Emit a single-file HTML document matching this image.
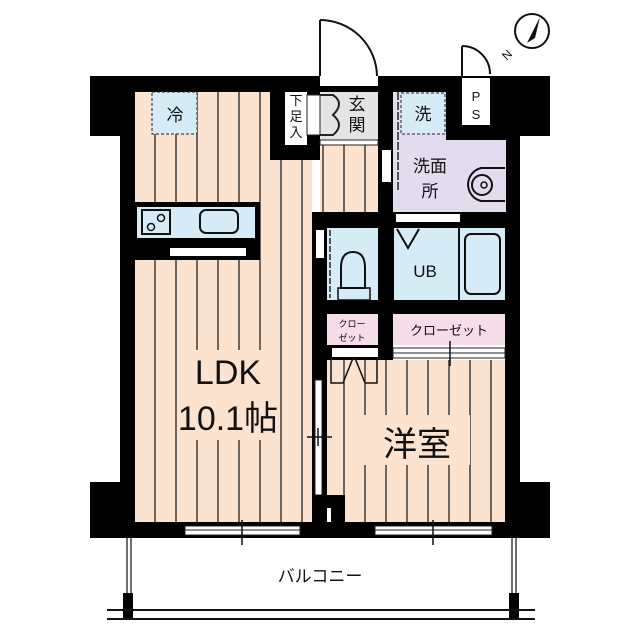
<!DOCTYPE html>
<html><head><meta charset="utf-8"><style>
html,body{margin:0;padding:0;background:#fff;}
svg{display:block}
text{font-family:"Liberation Sans","Noto Sans CJK JP",sans-serif;fill:#111}
</style></head><body>
<svg width="640" height="640" viewBox="0 0 640 640" xmlns="http://www.w3.org/2000/svg">
<defs>
<pattern id="fl" x="135" y="0" width="21" height="10" patternUnits="userSpaceOnUse">
<rect width="21" height="10" fill="#fce3cf"/><line x1="20" y1="0" x2="20" y2="10" stroke="#222" stroke-width="1.3"/>
</pattern>
</defs>
<!-- black structure -->
<rect x="90" y="76" width="460" height="16" fill="#000"/>
<rect x="90" y="76" width="45" height="60" fill="#000"/>
<rect x="493" y="76" width="57" height="60" fill="#000"/>
<rect x="120" y="76" width="15" height="462" fill="#000"/>
<rect x="505" y="76" width="15" height="462" fill="#000"/>
<rect x="90" y="482" width="58" height="56" fill="#000"/>
<rect x="493" y="482" width="57" height="56" fill="#000"/>
<rect x="120" y="522" width="400" height="16" fill="#000"/>
<rect x="378" y="76" width="127" height="260" fill="#000"/>
<rect x="312" y="212" width="81" height="150" fill="#000"/>
<rect x="312" y="212" width="15" height="310" fill="#000"/>
<rect x="270" y="76" width="50" height="84" fill="#000"/>
<!-- floors -->
<rect x="135" y="92" width="135" height="430" fill="url(#fl)"/>
<rect x="270" y="160" width="42" height="362" fill="url(#fl)"/>
<rect x="320" y="145" width="58" height="67" fill="url(#fl)"/>
<rect x="327" y="360" width="178" height="162" fill="url(#fl)"/>
<!-- LDK label background -->
<rect x="180" y="350" width="100" height="90" fill="#fce3cf"/>
<rect x="360" y="415" width="110" height="50" fill="#fce3cf"/>
<!-- 冷 -->
<rect x="152" y="92" width="45" height="42" fill="#d5ebf6" stroke="#222" stroke-dasharray="3,2"/>
<text x="175" y="121" font-size="17" text-anchor="middle">冷</text>
<!-- genkan -->
<rect x="320" y="92" width="58" height="48" fill="#e4e4e4"/>
<rect x="320" y="140" width="58" height="5" fill="#fff" stroke="#222" stroke-width="1"/>
<rect x="285" y="92" width="22" height="53" fill="#fff"/>
<rect x="307" y="95" width="13" height="40" fill="#fff" stroke="#222"/>
<path d="M320,95 L333,95 Q345,103 333,115 Q345,125 333,135 L320,135" fill="none" stroke="#222" stroke-width="2"/>
<text x="296" y="105" font-size="13" text-anchor="middle">下</text>
<text x="296" y="121" font-size="13" text-anchor="middle">足</text>
<text x="296" y="137" font-size="13" text-anchor="middle">入</text>
<text x="357" y="110" font-size="17" text-anchor="middle">玄</text>
<text x="357" y="131" font-size="17" text-anchor="middle">関</text>
<!-- entrance door -->
<rect x="320" y="76" width="58" height="10" fill="#fff"/>
<line x1="320" y1="20" x2="320" y2="76" stroke="#111" stroke-width="2"/>
<path d="M320,20 A57,57 0 0 1 377,76" fill="none" stroke="#111" stroke-width="2"/>
<!-- PS -->
<rect x="462" y="78" width="28" height="47" fill="#fff"/>
<line x1="462" y1="46" x2="462" y2="78" stroke="#111" stroke-width="2"/>
<path d="M462,46 A28,28 0 0 1 490,74" fill="none" stroke="#111" stroke-width="2"/>
<text x="476" y="101" font-size="13" text-anchor="middle">P</text>
<text x="476" y="119" font-size="13" text-anchor="middle">S</text>
<!-- washroom -->
<rect x="393" y="92" width="53" height="50" fill="#e3dcef"/>
<rect x="393" y="140" width="113" height="72" fill="#e3dcef"/>
<rect x="401" y="93" width="44" height="41" fill="#d5ebf6" stroke="#222" stroke-dasharray="3,2"/>
<text x="423" y="120" font-size="17" text-anchor="middle">洗</text>
<line x1="398" y1="92" x2="398" y2="190" stroke="#222" stroke-width="1.5" stroke-dasharray="8,2"/>
<rect x="382" y="150" width="9" height="32" fill="#fff"/>
<text x="430" y="172" font-size="17" text-anchor="middle">洗面</text>
<text x="430" y="197" font-size="17" text-anchor="middle">所</text>
<path d="M505,168 L481,168 A17,17 0 0 0 481,201 L505,201" fill="none" stroke="#111" stroke-width="2"/>
<circle cx="482" cy="185" r="10" fill="none" stroke="#111" stroke-width="2"/>
<circle cx="484" cy="185" r="3" fill="none" stroke="#111" stroke-width="1.5"/>
<rect x="396" y="214" width="64" height="8" fill="#fff"/>
<!-- kitchen -->
<rect x="135" y="202" width="125" height="58" fill="#000"/>
<rect x="137" y="207" width="118" height="31" fill="#d5ebf6"/>
<rect x="142" y="210" width="28" height="24" fill="none" stroke="#111" stroke-width="2"/>
<circle cx="151" cy="227" r="3.5" fill="none" stroke="#111" stroke-width="1.5"/>
<circle cx="161" cy="218" r="3.5" fill="none" stroke="#111" stroke-width="1.5"/>
<rect x="200" y="210" width="38" height="23" rx="6" fill="none" stroke="#111" stroke-width="2"/>
<rect x="170" y="248" width="76" height="8" fill="#fff"/>
<!-- toilet -->
<rect x="327" y="228" width="51" height="72" fill="#d5ebf6"/>
<rect x="316" y="230" width="8" height="28" fill="#fff"/>
<line x1="330" y1="230" x2="330" y2="298" stroke="#222" stroke-width="1.5" stroke-dasharray="6,2"/>
<path d="M341,288 L341,268 Q341,252 353,252 Q365,252 365,268 L365,288 Z" fill="none" stroke="#111" stroke-width="2"/>
<rect x="338" y="288" width="32" height="12" fill="none" stroke="#111" stroke-width="1.5"/>
<!-- UB -->
<rect x="394" y="228" width="111" height="72" fill="#d5ebf6"/>
<line x1="459" y1="228" x2="459" y2="300" stroke="#111" stroke-width="2"/>
<rect x="465" y="234" width="35" height="60" rx="6" fill="none" stroke="#111" stroke-width="2"/>
<path d="M397,229 L408,248 L419,229" fill="none" stroke="#111" stroke-width="2"/>
<text x="425" y="277" font-size="17" text-anchor="middle">UB</text>
<!-- closets -->
<rect x="327" y="314" width="51" height="31" fill="#f7dcea"/>
<text x="352" y="327" font-size="9" text-anchor="middle">クロー</text>
<text x="352" y="341" font-size="9" text-anchor="middle">ゼット</text>
<rect x="393" y="314" width="112" height="31" fill="#f7dcea"/>
<text x="449" y="335" font-size="13" text-anchor="middle">クローゼット</text>
<rect x="332" y="348" width="46" height="9" fill="#fff"/>
<path d="M331,358 L331,383 L343,383 L353,358 M377,358 L377,383 L365,383 L355,358" fill="none" stroke="#111" stroke-width="1.5"/>
<rect x="393" y="348" width="112" height="10" fill="#fff" stroke="#222" stroke-width="1"/>
<line x1="393" y1="353" x2="505" y2="353" stroke="#222"/>
<line x1="450" y1="341" x2="450" y2="366" stroke="#111" stroke-width="1.5"/>
<!-- partition sliding door -->
<rect x="315" y="380" width="7" height="115" fill="#fff" stroke="#222"/>
<line x1="307" y1="437" x2="332" y2="437" stroke="#111" stroke-width="1.5"/>
<line x1="318" y1="428" x2="318" y2="446" stroke="#111" stroke-width="1.5"/>
<rect x="312" y="495" width="33" height="27" fill="#000"/>
<rect x="327" y="508" width="4" height="14" fill="#fff"/>
<!-- windows -->
<rect x="185" y="526" width="115" height="9" fill="#fff" stroke="#222"/>
<line x1="185" y1="530" x2="300" y2="530" stroke="#222"/>
<line x1="242" y1="520" x2="242" y2="545" stroke="#111" stroke-width="1.5"/>
<rect x="375" y="526" width="117" height="9" fill="#fff" stroke="#222"/>
<line x1="375" y1="530" x2="492" y2="530" stroke="#222"/>
<line x1="433" y1="520" x2="433" y2="545" stroke="#111" stroke-width="1.5"/>
<!-- labels -->
<text x="228" y="384" font-size="34" text-anchor="middle">LDK</text>
<text x="228" y="430" font-size="34" text-anchor="middle">10.1帖</text>
<text x="417" y="456" font-size="34" text-anchor="middle">洋室</text>
<!-- balcony -->
<line x1="127" y1="538" x2="127" y2="600" stroke="#111" stroke-width="1.2"/>
<line x1="131" y1="538" x2="131" y2="600" stroke="#111" stroke-width="1.2"/>
<line x1="512" y1="538" x2="512" y2="600" stroke="#111" stroke-width="1.2"/>
<line x1="516" y1="538" x2="516" y2="600" stroke="#111" stroke-width="1.2"/>
<rect x="123" y="593" width="10" height="26" fill="#000"/>
<rect x="509" y="593" width="10" height="26" fill="#000"/>
<line x1="107" y1="610" x2="535" y2="610" stroke="#111" stroke-width="2"/>
<line x1="107" y1="619" x2="535" y2="619" stroke="#111" stroke-width="2"/>
<text x="320" y="582" font-size="17" text-anchor="middle">バルコニー</text>
<!-- compass -->
<circle cx="532" cy="31" r="17" fill="#fff" stroke="#111" stroke-width="2"/>
<path d="M540,17 L527,43 L535,38 Z" fill="#111"/>
<text x="504" y="62" font-size="12" transform="rotate(-45 504 58)">N</text>
</svg>
</body></html>
